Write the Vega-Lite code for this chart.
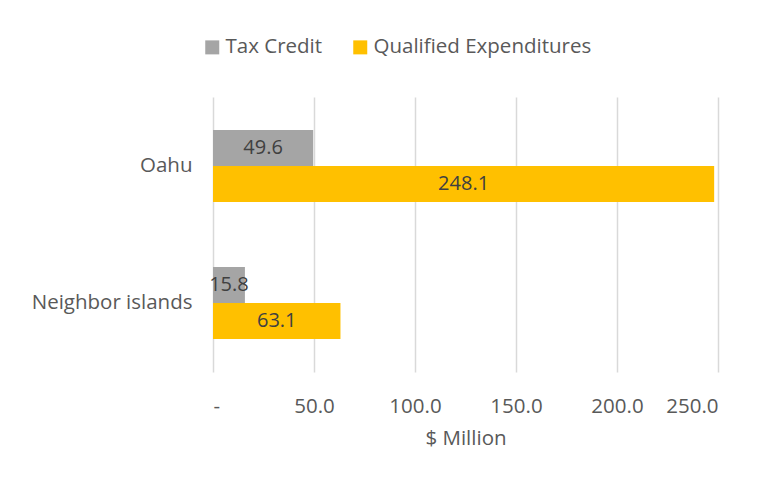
{
  "$schema": "https://vega.github.io/schema/vega-lite/v6.json",
  "width": 505,
  "height": 275,
  "autosize": {"type": "none"},
  "padding": {"left": 213, "top": 97, "right": 56, "bottom": 113},
  "background": "white",
  "config": {"view": {"stroke": null}, "font": "Open Sans"},
  "data": {
    "values": [
      {"island": "Oahu", "series": "Tax Credit", "value": 49.6},
      {"island": "Oahu", "series": "Qualified Expenditures", "value": 248.1},
      {"island": "Neighbor islands", "series": "Tax Credit", "value": 15.8},
      {"island": "Neighbor islands", "series": "Qualified Expenditures", "value": 63.1}
    ]
  },
  "encoding": {
    "y": {
      "field": "island",
      "type": "nominal",
      "sort": ["Oahu", "Neighbor islands"],
      "scale": {"paddingInner": 0.474, "paddingOuter": 0.24},
      "axis": {
        "title": null,
        "domain": false,
        "ticks": false,
        "labelFontSize": 20.5,
        "labelColor": "#595959",
        "labelPadding": 21,
        "labelLimit": 300
      }
    },
    "yOffset": {
      "field": "series",
      "type": "nominal",
      "sort": ["Tax Credit", "Qualified Expenditures"],
      "scale": {"paddingInner": 0, "paddingOuter": 0}
    }
  },
  "layer": [
    {
      "mark": {"type": "bar"},
      "encoding": {
        "x": {
          "field": "value",
          "type": "quantitative",
          "scale": {"domain": [0, 250], "nice": false},
          "axis": {
            "values": [0, 50, 100, 150, 200, 250],
            "labelExpr": "datum.value === 0 ? '-   ' : format(datum.value, '.1f')",
            "grid": true,
            "gridColor": "#d9d9d9",
            "gridWidth": 1.5,
            "domain": false,
            "ticks": false,
            "labelFontSize": 20.5,
            "labelColor": "#595959",
            "labelPadding": 24,
            "title": "$ Million",
            "titleFontSize": 20.5,
            "titleFontWeight": "normal",
            "titleColor": "#595959",
            "titlePadding": 12
          }
        },
        "color": {
          "field": "series",
          "type": "nominal",
          "sort": ["Tax Credit", "Qualified Expenditures"],
          "scale": {"domain": ["Tax Credit", "Qualified Expenditures"], "range": ["#A5A5A5", "#FFC000"]},
          "legend": {
            "title": null,
            "orient": "none",
            "legendX": -11,
            "legendY": -60,
            "direction": "horizontal",
            "symbolType": "square",
            "symbolSize": 196,
            "symbolStrokeWidth": 0,
            "labelFontSize": 20.5,
            "labelColor": "#595959",
            "labelOffset": 3,
            "labelLimit": 400,
            "columnPadding": 27
          }
        }
      }
    },
    {
      "mark": {"type": "text", "fontSize": 20, "color": "#404040", "baseline": "middle", "align": "center"},
      "encoding": {
        "x": {
          "field": "value",
          "type": "quantitative",
          "scale": {"domain": [0, 500], "nice": false},
          "axis": null
        },
        "text": {"field": "value", "type": "quantitative", "format": ".1f"}
      }
    }
  ],
  "resolve": {"scale": {"x": "independent"}}
}
